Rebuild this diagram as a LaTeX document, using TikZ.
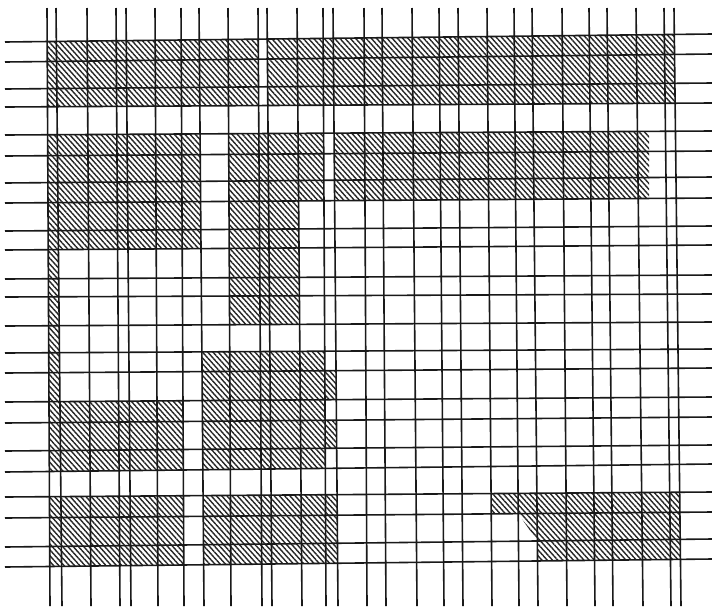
\documentclass[tikz,border=0pt]{standalone}
\usetikzlibrary{patterns.meta}
\tikzset{
  gridline/.style={line width=1.6pt, black!90},
  hatch/.style={pattern={Lines[angle=-48,distance=3.9pt,line width=1.4pt]}, pattern color=black!85}
}
\newcommand\hrect[4]{\fill[hatch] (p-#1-#3) -- (p-#2-#3) -- (p-#2-#4) -- (p-#1-#4) -- cycle;}
\begin{document}
\begin{tikzpicture}[x=1pt,y=-1pt]
\fill[white] (0,0) rectangle (712,611);
\useasboundingbox (0,0) rectangle (712,611);
% vertical line end points
\foreach \t/\b [count=\j from 0] in {47/50,56/62,87/91,116/120,126/131,155/158,181/184,199/204,228/231,258/262,267/272,297/302,323/326,333/338,364/367,382/386,412/417,439/444,458/463,487/492,514/519,532/538,562/567,589/595,607/613,636/643,664/671,674/681}{
  \coordinate (vt\j) at (\t,8);
  \coordinate (vb\j) at (\b,606);
  \foreach \l/\r [count=\i from 0] in {42/34,62/54,89/83,107/103,135/131,156/151,183/177,203/198,231/226,250/245,279/275,297/294,326/322,353/349,373/368,402/397,423/417,451/445,472/464,497/492,518/512,547/539,567/559}{
    \pgfmathsetmacro\kv{(\b-\t)/598}
    \pgfmathsetmacro\kh{(\r-\l)/707}
    \pgfmathsetmacro\px{(\t+\kv*(\l-8-5*\kh))/(1-\kv*\kh)}
    \pgfmathsetmacro\py{\l+\kh*(\px-5)}
    \coordinate (p-\j-\i) at (\px,\py);
  }
}
\foreach \l/\r [count=\i from 0] in {42/34,62/54,89/83,107/103,135/131,156/151,183/177,203/198,231/226,250/245,279/275,297/294,326/322,353/349,373/368,402/397,423/417,451/445,472/464,497/492,518/512,547/539,567/559}{
  \coordinate (hl\i) at (5,\l);
  \coordinate (hr\i) at (712,\r);
}
% hatched areas
\hrect{0}{9}{0}{3}
\hrect{10}{27}{0}{3}
\hrect{0}{7}{4}{9}
\hrect{0}{1}{9}{15}
\hrect{8}{12}{4}{7}
\hrect{8}{11}{7}{12}
\fill[hatch] (p-13-4) -- (649,131.4) -- (649,198.4) -- (p-13-7) -- cycle;
\hrect{7}{12}{13}{18}
\hrect{12}{13}{14}{15}
\hrect{12}{13}{16}{17}
\hrect{0}{6}{15}{18}
\hrect{0}{6}{19}{22}
\hrect{7}{13}{19}{22}
\fill[hatch] (p-19-19) -- (p-27-19) -- (p-27-22) -- (p-21-22) -- (p-21-21) -- (p-20-20) -- (p-19-20) -- cycle;
% grid lines
\foreach \j in {0,...,27}{\draw[gridline] (vt\j) -- (vb\j);}
\foreach \i in {0,...,22}{\draw[gridline] (hl\i) -- (hr\i);}
\end{tikzpicture}
\end{document}
